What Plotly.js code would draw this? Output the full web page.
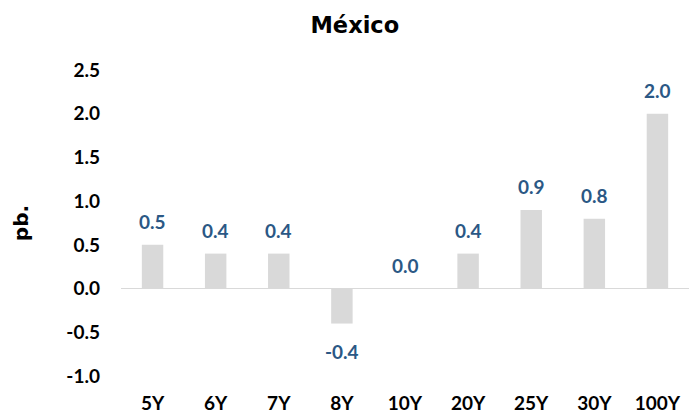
<!DOCTYPE html>
<html><head><meta charset="utf-8">
<script src="https://cdn.plot.ly/plotly-3.0.1.min.js"></script>
<style>html,body{margin:0;padding:0;background:#fff}#chart{width:689px;height:418px}</style>
</head><body><div id="chart"></div>
<script>
const categories = ["5Y","6Y","7Y","8Y","10Y","20Y","25Y","30Y","100Y"];
const values = [0.5, 0.4, 0.4, -0.4, 0.0, 0.4, 0.9, 0.8, 2.0];
const yTicks = [-1.0,-0.5,0.0,0.5,1.0,1.5,2.0,2.5];

const FONT = "Lato, 'DejaVu Sans', sans-serif";
const TFONT = "'DejaVu Sans', Lato, sans-serif";
const annotations = categories.map((c,i)=>({
  x:c, y:values[i], xref:'x', yref:'y', text:values[i].toFixed(1),
  showarrow:false, yanchor:'middle', yshift: values[i] < 0 ? -28 : 23,
  font:{family:FONT, size:19, color:'#2b5885', weight:'bold'}
}));

Plotly.newPlot('chart', [{
  type:'bar', x:categories, y:values,
  marker:{color:'#d9d9d9'}, hoverinfo:'none'
}], {
  width:689, height:418,
  margin:{l:121, r:0, t:70, b:42},
  paper_bgcolor:'#fff', plot_bgcolor:'#fff',
  bargap:0.66,
  showlegend:false,
  title:{text:'<b>México</b>', x:0.515, xanchor:'center', y:0.94, yanchor:'middle', font:{family:TFONT, size:22.5, color:'#000'}},
  font:{family:FONT, size:19, color:'#000'},
  xaxis:{showgrid:false, showline:false, zeroline:false, ticks:'', ticklabelstandoff:14,
    tickfont:{family:FONT, size:19, color:'#000', weight:'bold'}},
  yaxis:{range:[-1.0,2.5], tickvals:yTicks, ticktext:yTicks.map(v=>v.toFixed(1)),
    showgrid:false, showline:false, zeroline:true, zerolinecolor:'#d9d9d9', zerolinewidth:1.5,
    ticks:'', ticklabelstandoff:20,
    tickfont:{family:FONT, size:19, color:'#000', weight:'bold'},
    title:{text:'<b>pb.</b>', standoff:32, font:{family:TFONT, size:20, color:'#000'}}},
  annotations:annotations
}, {staticPlot:true});
</script></body></html>
